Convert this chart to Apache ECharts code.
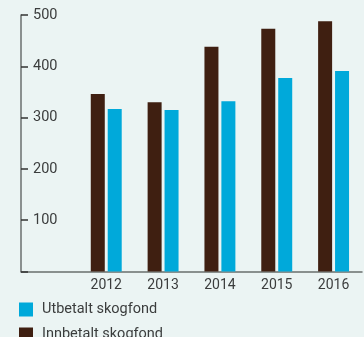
<!DOCTYPE html>
<html>
<head>
<meta charset="utf-8">
<script src="https://cdn.jsdelivr.net/npm/echarts@6/dist/echarts.min.js"></script>
<style>
  html, body { margin: 0; padding: 0; background: #ebf4f3; }
  #chart { width: 364px; height: 337px; }
</style>
</head>
<body>
<div id="chart"></div>
<script>
// Years on the x axis; the leading blank slot leaves room for the y labels
const categories = ['', '2012', '2013', '2014', '2015', '2016'];
// Paid in / paid out to the forest fund (mill. kr)
const innbetalt = [null, 346, 330, 438, 473, 488];
const utbetalt = [null, 317, 315, 332, 377, 391];
const yTicks = [0, 100, 200, 300, 400, 500];
const legendNames = ['Utbetalt skogfond', 'Innbetalt skogfond'];

const axisColor = '#6a6f6e';
const textColor = '#3b3d3d';
const brown = '#3f1f11';
const blue = '#00a9da';

// one legend block per row so the second row may run past the bottom edge
const legendRow = (name, top) => ({
  orient: 'vertical',
  left: 19,
  top: top,
  padding: 0,
  itemWidth: 14,
  itemHeight: 14,
  itemGap: 0,
  icon: 'rect',
  data: [name],
  textStyle: { fontSize: 14.5, color: textColor, fontFamily: 'Roboto', padding: [0, 0, 0, 4] }
});

const chart = echarts.init(document.getElementById('chart'), null, { renderer: 'canvas' });
chart.setOption({
  backgroundColor: '#ebf4f3',
  animation: false,
  textStyle: { fontFamily: 'Roboto' },
  grid: { left: 21, right: 2, top: 15, bottom: 65.5, containLabel: false },
  legend: [legendRow(legendNames[0], 302), legendRow(legendNames[1], 327)],
  xAxis: {
    type: 'category',
    data: categories,
    boundaryGap: true,
    axisLine: { lineStyle: { color: axisColor, width: 1.5 } },
    axisTick: { inside: true, length: 6, lineStyle: { color: '#333', width: 1.5 } },
    axisLabel: { margin: 7, fontSize: 14, color: textColor, fontFamily: 'Roboto' }
  },
  yAxis: {
    type: 'value',
    min: yTicks[0],
    max: yTicks[yTicks.length - 1],
    interval: 100,
    splitLine: { show: false },
    axisLine: { show: true, lineStyle: { color: axisColor, width: 1.5 } },
    axisTick: { show: true, inside: true, length: 7, lineStyle: { color: '#333', width: 1.5 } },
    axisLabel: {
      inside: true,
      margin: 12,
      fontSize: 14.5,
      color: textColor,
      fontFamily: 'Roboto',
      formatter: v => (v === 0 ? '' : String(v))
    }
  },
  series: [
    {
      name: legendNames[1],
      type: 'bar',
      data: innbetalt,
      barWidth: 14,
      barGap: '21%',
      itemStyle: { color: brown }
    },
    {
      name: legendNames[0],
      type: 'bar',
      data: utbetalt,
      barWidth: 14,
      itemStyle: { color: blue }
    }
  ]
});
</script>
</body>
</html>
